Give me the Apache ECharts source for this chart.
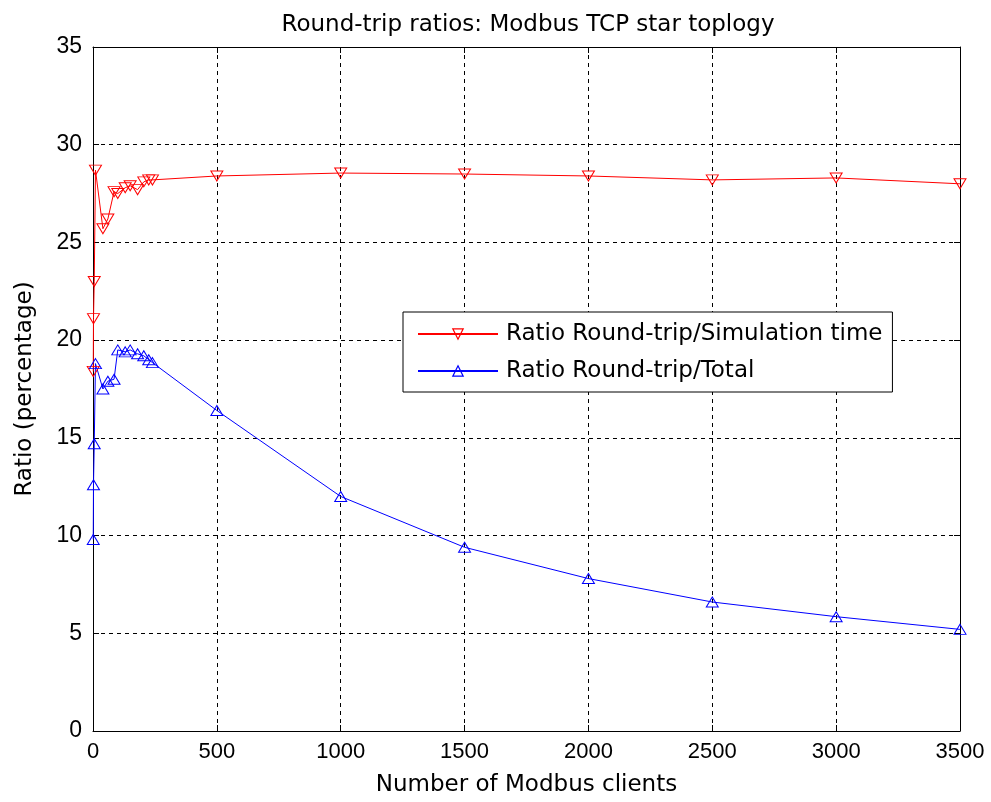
<!DOCTYPE html>
<html><head><meta charset="utf-8">
<script src="https://cdn.jsdelivr.net/npm/echarts@6/dist/echarts.min.js"></script>
<style>html,body{margin:0;padding:0;background:#fff}#c{width:991px;height:802px}</style>
</head><body><div id="c"></div>
<script>
const clients = [1, 2, 5, 10, 40, 60, 85, 100, 130, 150, 180, 205, 225, 240, 500, 1000, 1500, 2000, 2500, 3000, 3500];
const ratioSimTime = [18.4, 21.1, 23.0, 28.7, 25.7, 26.2, 27.6, 27.5, 27.8, 27.9, 27.7, 28.1, 28.2, 28.2, 28.4, 28.55, 28.5, 28.4, 28.2, 28.3, 28.0];
const ratioTotal = [9.8, 12.6, 14.7, 18.8, 17.5, 17.9, 18.0, 19.5, 19.4, 19.5, 19.3, 19.2, 19.0, 18.85, 16.4, 12.0, 9.4, 7.8, 6.6, 5.85, 5.2];
const xTicks = [0, 500, 1000, 1500, 2000, 2500, 3000, 3500];
const yTicks = [0, 5, 10, 15, 20, 25, 30, 35];
const seriesNames = ['Ratio Round-trip/Simulation time', 'Ratio Round-trip/Total'];
const seriesColors = ['#ff0000', '#0000ff'];
const titleText = 'Round-trip ratios: Modbus TCP star toplogy';
const xName = 'Number of Modbus clients';
const yName = 'Ratio (percentage)';

const NUM_FONT = 'Liberation Sans, Arial, sans-serif';
const TXT_FONT = 'DejaVu Sans, sans-serif';
const chart = echarts.init(document.getElementById('c'));
const down = 'path://M0,0 L12,0 L6,10 Z';
const up = 'path://M6,0 L12,10 L0,10 Z';
const gridLine = {show: true, lineStyle: {color: '#000', type: [4, 4], width: 1}};
const frameAxis = {
  axisLine: {show: true, onZero: false, lineStyle: {color: '#000', width: 1}},
  axisTick: {show: true, inside: true, length: 6, lineStyle: {color: '#000'}}
};
chart.setOption({
  animation: false,
  backgroundColor: '#fff',
  title: {text: titleText, left: 523, textAlign: 'center', top: 9,
    textStyle: {fontFamily: TXT_FONT, fontSize: 23, fontWeight: 'normal', color: '#000'}},
  grid: {left: 93, right: 31, top: 47, bottom: 68, show: false},
  legend: {
    orient: 'vertical', left: 403, top: 312,
    data: seriesNames.map((n, i) => ({name: n,
      itemStyle: {color: 'rgba(255,255,255,0)', borderColor: seriesColors[i], borderWidth: 1.2}})),
    backgroundColor: '#fff', borderColor: '#000', borderWidth: 1,
    padding: [7, 10, 6, 14], itemGap: 7, itemWidth: 80, itemHeight: 13,
    textStyle: {fontFamily: TXT_FONT, fontSize: 23, lineHeight: 30, color: '#000', padding: [0, 0, 0, 3]}
  },
  xAxis: [Object.assign({
    type: 'value', min: 0, max: 3500, interval: 500,
    axisLabel: {fontFamily: NUM_FONT, fontSize: 22, color: '#000', margin: 10,
      formatter: v => xTicks.includes(v) ? String(v) : ''},
    splitLine: gridLine,
    name: xName, nameLocation: 'middle', nameGap: 43,
    nameTextStyle: {fontFamily: TXT_FONT, fontSize: 23, color: '#000'}
  }, frameAxis), Object.assign({
    type: 'value', min: 0, max: 3500, interval: 500, position: 'top',
    axisLabel: {show: false}, splitLine: {show: false}
  }, frameAxis)],
  yAxis: [Object.assign({
    type: 'value', min: 0, max: 35, interval: 5,
    axisLabel: {fontFamily: NUM_FONT, fontSize: 23, color: '#000', margin: 11,
      formatter: v => yTicks.includes(v) ? String(v) : ''},
    splitLine: gridLine,
    name: yName, nameLocation: 'middle', nameGap: 56, nameRotate: 90,
    nameTextStyle: {fontFamily: TXT_FONT, fontSize: 23, color: '#000'}
  }, frameAxis), Object.assign({
    type: 'value', min: 0, max: 35, interval: 5, position: 'right',
    axisLabel: {show: false}, splitLine: {show: false}
  }, frameAxis)],
  series: [{
    name: seriesNames[0], type: 'line',
    data: clients.map((c, i) => [c, ratioSimTime[i]]),
    symbol: down, symbolSize: [12, 10], showAllSymbol: true,
    lineStyle: {color: seriesColors[0], width: 1},
    itemStyle: {color: 'rgba(255,255,255,0)', borderColor: seriesColors[0], borderWidth: 1},
    emphasis: {disabled: true}
  }, {
    name: seriesNames[1], type: 'line',
    data: clients.map((c, i) => [c, ratioTotal[i]]),
    symbol: up, symbolSize: [12, 10], showAllSymbol: true,
    lineStyle: {color: seriesColors[1], width: 1},
    itemStyle: {color: 'rgba(255,255,255,0)', borderColor: seriesColors[1], borderWidth: 1},
    emphasis: {disabled: true}
  }]
});
</script></body></html>
